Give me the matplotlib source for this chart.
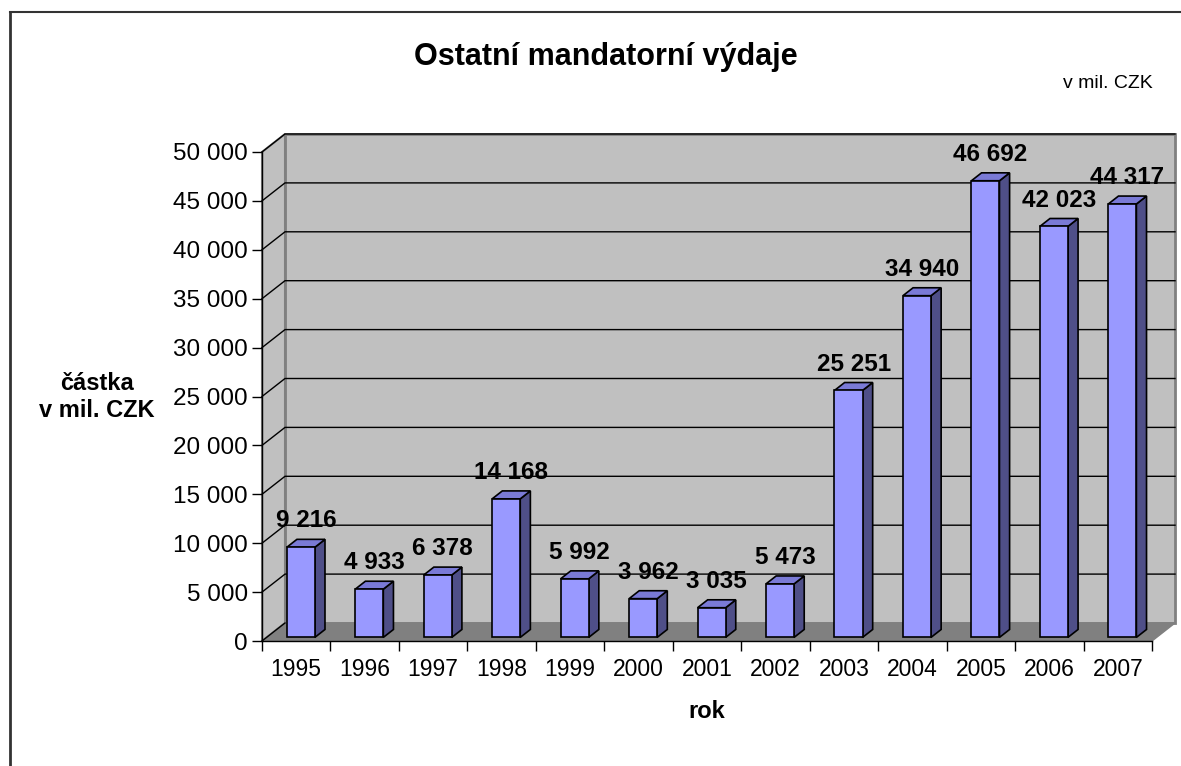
import matplotlib.pyplot as plt
from matplotlib.patches import Polygon
from matplotlib.lines import Line2D

plt.rcParams['font.family'] = ['Liberation Sans', 'DejaVu Sans']

# data
years = ['1995', '1996', '1997', '1998', '1999', '2000', '2001',
         '2002', '2003', '2004', '2005', '2006', '2007']
values = [9216, 4933, 6378, 14168, 5992, 3962, 3035,
          5473, 25251, 34940, 46692, 42023, 44317]
yticks = list(range(0, 50001, 5000))

W, H = 1181, 766
fig = plt.figure(figsize=(W / 100, H / 100), dpi=100)
# front plot area (in pixels: x 262..1152, y 152..641)
ax = fig.add_axes([262 / W, (H - 641) / H, 890 / W, 489 / H])
n = len(years)
ymax = 50000
ax.set_xlim(0, n)
ax.set_ylim(0, ymax)
ax.patch.set_visible(False)

# oblique depth offset, in data units
D = 23 / (890 / n)
DY = 18 / 489 * ymax

wall = '#c0c0c0'
edge = '#808080'
# back wall, side wall, floor
ax.add_patch(Polygon([(D, DY), (n + D, DY), (n + D, ymax + DY), (D, ymax + DY)],
                     closed=True, fc=wall, ec=edge, lw=2, clip_on=False, zorder=0))
ax.add_patch(Polygon([(0, 0), (D, DY), (D, ymax + DY), (0, ymax)],
                     closed=True, fc=wall, ec=edge, lw=1.5, clip_on=False, zorder=0))
ax.add_patch(Polygon([(0, 0), (n, 0), (n + D, DY), (D, DY)],
                     closed=True, fc=edge, ec=edge, lw=1, clip_on=False, zorder=0.5))
# gridlines on walls
for v in yticks[1:]:
    ax.plot([0, D, n + D], [v, v + DY, v + DY], color='black', lw=1,
            clip_on=False, zorder=0.6)
ax.plot([0, D], [0, DY], color='black', lw=1, clip_on=False, zorder=0.6)

# bars
z0, z1 = 0.2, 0.64
hw = 0.205
front = '#9999ff'
side = '#4f4f88'
top = '#7a7ad6'
for i, v in enumerate(values):
    x0 = i + 0.5 - hw + z0 * D
    x1 = i + 0.5 + hw + z0 * D
    yb = z0 * DY
    yt = v + z0 * DY
    ddx = (z1 - z0) * D
    ddy = (z1 - z0) * DY
    ax.add_patch(Polygon([(x1, yb), (x1 + ddx, yb + ddy), (x1 + ddx, yt + ddy), (x1, yt)],
                         closed=True, fc=side, ec='black', lw=1.2, zorder=3, clip_on=False))
    ax.add_patch(Polygon([(x0, yt), (x1, yt), (x1 + ddx, yt + ddy), (x0 + ddx, yt + ddy)],
                         closed=True, fc=top, ec='black', lw=1.2, zorder=3, clip_on=False))
    ax.add_patch(Polygon([(x0, yb), (x1, yb), (x1, yt), (x0, yt)],
                         closed=True, fc=front, ec='black', lw=1.2, zorder=3, clip_on=False))
    lbl = f'{v:,}'.replace(',', ' ')
    ax.annotate(lbl, (i + 0.5 + (z0 + z1) / 2 * D, v + z1 * DY),
                xytext=(0, 5), textcoords='offset points', ha='center', va='bottom',
                fontsize=17.5, fontweight='bold', zorder=5, annotation_clip=False)

# axes
for s in ['top', 'right']:
    ax.spines[s].set_visible(False)
for s in ['left', 'bottom']:
    ax.spines[s].set_color('black')
    ax.spines[s].set_linewidth(1)
    ax.spines[s].set_zorder(4)
ax.set_yticks(yticks)
ax.set_yticklabels([f'{v:,}'.replace(',', ' ') for v in yticks])
ax.tick_params(axis='y', direction='out', length=7, width=1, labelsize=17.5, pad=3)
ax.set_xticks(range(n + 1))
ax.set_xticklabels([])
ax.tick_params(axis='x', which='major', direction='out', length=7, width=1)
ax.set_xticks([i + 0.5 for i in range(n)], minor=True)
ax.set_xticklabels(years, minor=True)
ax.tick_params(axis='x', which='minor', length=0, labelsize=16.5, pad=12)

ax.set_xlabel('rok', fontsize=17, fontweight='bold', labelpad=14)

fig.text(606 / W, 1 - 57 / H, 'Ostatní mandatorní výdaje', ha='center', va='center',
         fontsize=22, fontweight='bold')
fig.text(1153 / W, 1 - 84 / H, 'v mil. CZK', ha='right', va='center', fontsize=14)
fig.text(97 / W, 1 - 397 / H, 'částka\nv mil. CZK', ha='center', va='center',
         fontsize=17, fontweight='bold', linespacing=1.2)

# outer frame (left and top edges visible)
fig.add_artist(Line2D([10 / W, 10 / W], [0, 1 - 12 / H], transform=fig.transFigure,
                      color='#333333', lw=2))
fig.add_artist(Line2D([10 / W, 1], [1 - 12 / H, 1 - 12 / H], transform=fig.transFigure,
                      color='#333333', lw=1.5))

fig.savefig('out.png', dpi=100)
